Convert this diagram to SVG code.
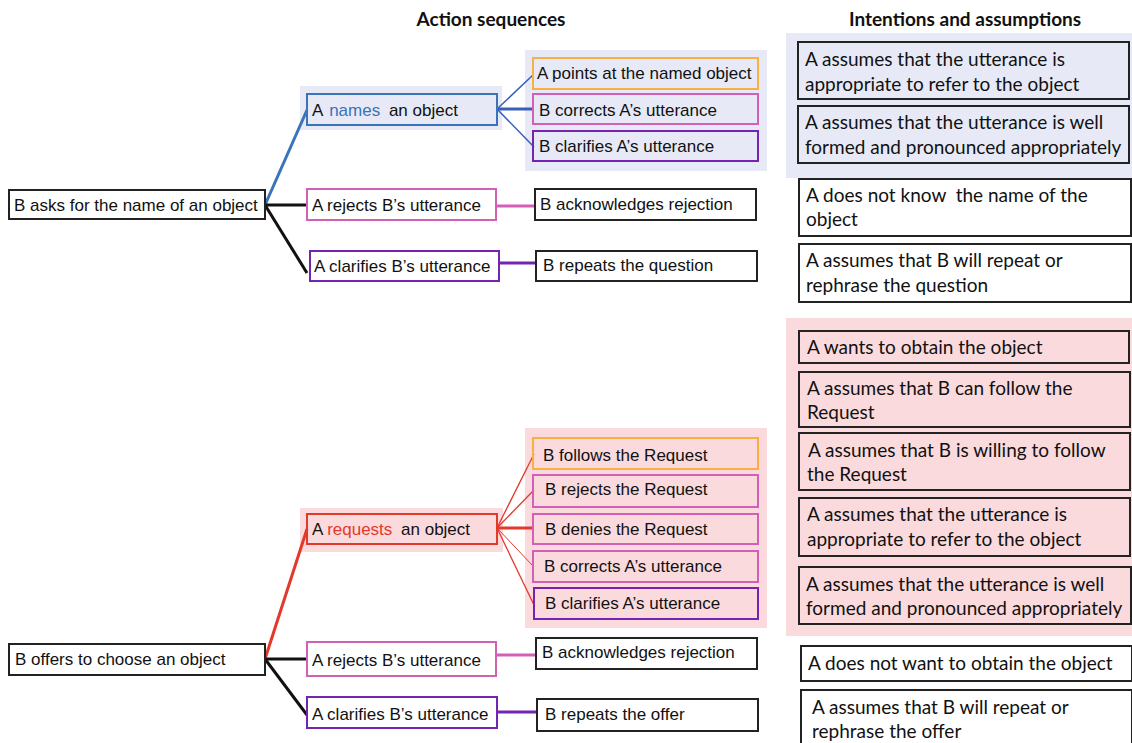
<svg xmlns="http://www.w3.org/2000/svg" width="1132" height="743" viewBox="0 0 1132 743">
<style>
.t{font-family:"Liberation Sans",Arial,sans-serif;font-size:17px;fill:#111}
.r{font-family:Lato,"Open Sans",sans-serif;font-size:19px;fill:#111;white-space:pre}
.h{font-family:Lato,"Open Sans",sans-serif;font-size:19px;font-weight:bold;fill:#111}
.bx{fill:#fff;stroke-width:2}
.bxn{fill:none;stroke-width:2}
.k{stroke:#222}
.bl{stroke:#3a73b8}
.rd{stroke:#e2392b}
.or{stroke:#f9b042}
.pk{stroke:#d35fb6}
.pu{stroke:#7424b0}
.rb{stroke:#222;stroke-width:2}
.bgb{fill:#e7eaf6}
.bgr{fill:#fbdadd}
</style>
<rect x="0" y="0" width="1132" height="743" fill="#fff"/>
<text class="h" x="491" y="26" text-anchor="middle">Action sequences</text>
<text class="h" x="965" y="26" text-anchor="middle">Intentions and assumptions</text>

<!-- backgrounds -->
<rect class="bgb" x="300" y="86" width="202" height="44"/>
<rect class="bgb" x="525" y="50" width="242" height="121"/>
<rect class="bgb" x="786" y="33" width="346" height="145"/>
<rect class="bgr" x="300" y="508" width="203" height="44"/>
<rect class="bgr" x="525" y="428" width="242" height="200"/>
<rect class="bgr" x="786" y="318" width="346" height="318"/>

<g id="connectors" fill="none" stroke-linecap="butt">
<line x1="265" y1="205" x2="307" y2="110" stroke="#3a73b8" stroke-width="3"/>
<line x1="265" y1="205" x2="307" y2="205" stroke="#111" stroke-width="3"/>
<line x1="265" y1="205" x2="307" y2="273" stroke="#111" stroke-width="3"/>
<line x1="497" y1="109" x2="533" y2="75" stroke="#3a5fb8" stroke-width="1.5"/>
<line x1="497" y1="109" x2="533" y2="109" stroke="#3a5fb8" stroke-width="3"/>
<line x1="497" y1="109" x2="534" y2="147" stroke="#3a5fb8" stroke-width="1.5"/>
<line x1="496" y1="206" x2="535" y2="206" stroke="#d35fb6" stroke-width="3"/>
<line x1="499" y1="263" x2="536" y2="263" stroke="#7424b0" stroke-width="3"/>
<line x1="265" y1="659" x2="307" y2="529" stroke="#e2392b" stroke-width="3"/>
<line x1="265" y1="659" x2="307" y2="659" stroke="#111" stroke-width="3"/>
<line x1="265" y1="659" x2="307" y2="715" stroke="#111" stroke-width="3"/>
<line x1="497" y1="528" x2="534" y2="454" stroke="#e2392b" stroke-width="1.3"/>
<line x1="497" y1="528" x2="534" y2="490" stroke="#e2392b" stroke-width="1.3"/>
<line x1="497" y1="528" x2="533" y2="528" stroke="#e2392b" stroke-width="3"/>
<line x1="497" y1="528" x2="533" y2="566" stroke="#e2392b" stroke-width="1"/>
<line x1="497" y1="528" x2="534" y2="605" stroke="#e2392b" stroke-width="1.3"/>
<line x1="497" y1="655" x2="536" y2="655" stroke="#d35fb6" stroke-width="3"/>
<line x1="497" y1="712" x2="537" y2="712" stroke="#7424b0" stroke-width="3"/>
</g>

<!-- top tree -->
<g id="n-asks"><rect class="bx k" x="9" y="190" width="256" height="29"/><text class="t" x="14" y="211">B asks for the name of an object</text></g>
<g id="n-names"><rect class="bxn bl" x="307" y="94" width="190" height="31"/><text class="t" x="312" y="116">A <tspan dx="2" fill="#3a73b8">names</tspan><tspan dx="4"> an object</tspan></text></g>
<g id="n-points"><rect class="bxn or" x="533" y="58" width="225" height="31"/><text class="t" x="537" y="79">A points at the named object</text></g>
<g id="n-corrects1"><rect class="bxn pk" x="533" y="94" width="225" height="30"/><text class="t" x="539" y="116">B corrects A’s utterance</text></g>
<g id="n-clarifies1"><rect class="bxn pu" x="533" y="131" width="225" height="30"/><text class="t" x="539" y="152">B clarifies A’s utterance</text></g>
<g id="n-rejects1"><rect class="bx pk" x="307" y="189" width="189" height="31"/><text class="t" x="312" y="211">A rejects B’s utterance</text></g>
<g id="n-ack1"><rect class="bx k" x="535" y="189" width="221" height="31"/><text class="t" x="540" y="210">B acknowledges rejection</text></g>
<g id="n-clarB1"><rect class="bx pu" x="310" y="251" width="189" height="30"/><text class="t" x="314" y="272">A clarifies B’s utterance</text></g>
<g id="n-repq"><rect class="bx k" x="536" y="251" width="221" height="30"/><text class="t" x="543" y="271">B repeats the question</text></g>

<!-- top right -->
<g id="i1"><rect class="bxn rb" x="798" y="42" width="331" height="57"/><text class="r" x="805" y="66">A assumes that the utterance is</text><text class="r" x="805" y="91">appropriate to refer to the object</text></g>
<g id="i2"><rect class="bxn rb" x="798" y="106" width="331" height="57"/><text class="r" x="805" y="129">A assumes that the utterance is well</text><text class="r" x="805" y="154">formed and pronounced appropriately</text></g>
<g id="i3"><rect class="bx rb" x="799" y="179" width="332" height="57"/><text class="r" x="806" y="202">A does not know  the name of the</text><text class="r" x="806" y="226">object</text></g>
<g id="i4"><rect class="bx rb" x="799" y="244" width="332" height="58"/><text class="r" x="806" y="267">A assumes that B will repeat or</text><text class="r" x="806" y="292">rephrase the question</text></g>

<!-- bottom tree -->
<g id="n-offers"><rect class="bx k" x="9" y="644" width="256" height="31"/><text class="t" x="15" y="665">B offers to choose an object</text></g>
<g id="n-requests"><rect class="bxn rd" x="307" y="514" width="190" height="30"/><text class="t" x="312" y="535">A <tspan fill="#e2392b">requests</tspan><tspan dx="4"> an object</tspan></text></g>
<g id="n-follows"><rect class="bxn or" x="533" y="438" width="225" height="31"/><text class="t" x="543" y="461">B follows the Request</text></g>
<g id="n-rejectsR"><rect class="bxn pk" x="533" y="475" width="225" height="32"/><text class="t" x="545" y="495">B rejects the Request</text></g>
<g id="n-denies"><rect class="bxn pk" x="533" y="514" width="225" height="30"/><text class="t" x="545" y="535">B denies the Request</text></g>
<g id="n-corrects2"><rect class="bxn pk" x="533" y="551" width="225" height="31"/><text class="t" x="544" y="572">B corrects A’s utterance</text></g>
<g id="n-clarifies2"><rect class="bxn pu" x="534" y="588" width="224" height="31"/><text class="t" x="545" y="609">B clarifies A’s utterance</text></g>
<g id="n-rejects2"><rect class="bx pk" x="307" y="642" width="189" height="34"/><text class="t" x="312" y="666">A rejects B’s utterance</text></g>
<g id="n-ack2"><rect class="bx k" x="536" y="638" width="221" height="31"/><text class="t" x="542" y="658">B acknowledges rejection</text></g>
<g id="n-clarB2"><rect class="bx pu" x="307" y="697" width="190" height="31"/><text class="t" x="312" y="720">A clarifies B’s utterance</text></g>
<g id="n-repo"><rect class="bx k" x="537" y="699" width="221" height="32"/><text class="t" x="545" y="720">B repeats the offer</text></g>

<!-- bottom right -->
<g id="j1"><rect class="bxn rb" x="799" y="331" width="330" height="32"/><text class="r" x="807" y="354">A wants to obtain the object</text></g>
<g id="j2"><rect class="bxn rb" x="799" y="372" width="331" height="55"/><text class="r" x="807" y="395">A assumes that B can follow the</text><text class="r" x="807" y="419">Request</text></g>
<g id="j3"><rect class="bxn rb" x="799" y="433" width="331" height="57"/><text class="r" x="808" y="457">A assumes that B is willing to follow</text><text class="r" x="807" y="481">the Request</text></g>
<g id="j4"><rect class="bxn rb" x="799" y="498" width="331" height="58"/><text class="r" x="807" y="521">A assumes that the utterance is</text><text class="r" x="807" y="546">appropriate to refer to the object</text></g>
<g id="j5"><rect class="bxn rb" x="799" y="567" width="332" height="57"/><text class="r" x="806" y="591">A assumes that the utterance is well</text><text class="r" x="806" y="615">formed and pronounced appropriately</text></g>
<g id="j6"><rect class="bx rb" x="801" y="646" width="331" height="35"/><text class="r" x="808" y="670">A does not want to obtain the object</text></g>
<g id="j7"><rect class="bx rb" x="801" y="690" width="331" height="60"/><text class="r" x="812" y="714">A assumes that B will repeat or</text><text class="r" x="812" y="738">rephrase the offer</text></g>
</svg>
